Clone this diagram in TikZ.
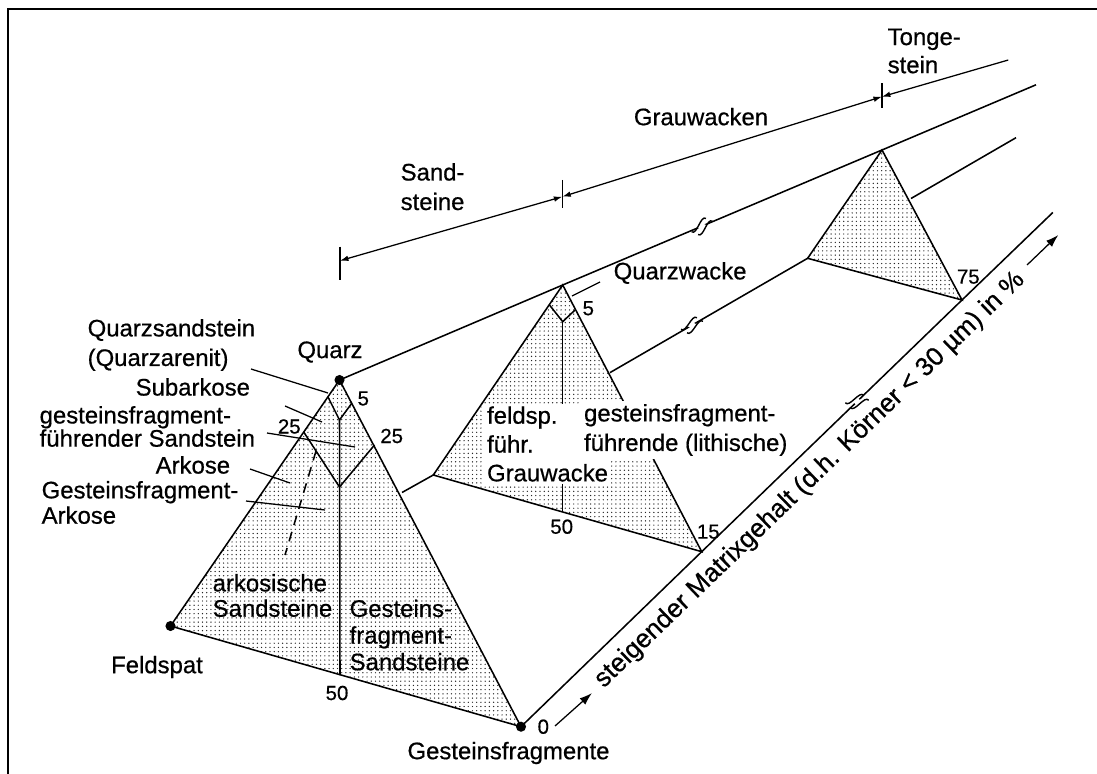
\documentclass[tikz,border=0pt]{standalone}
\usepackage{fontspec}
\setmainfont{Liberation Sans}[FakeBold=0.6]
\usetikzlibrary{arrows.meta, patterns}

\tikzset{
  prismline/.style={line width=1.1pt},
  stipple/.style={pattern=dots, pattern color=black!85},
  lbl/.style={font=\fontsize{17}{18}\selectfont, inner sep=1pt, align=left},
  num/.style={font=\fontsize{14.5}{16}\selectfont, inner sep=1pt},
  dimline/.style={line width=0.9pt},
  dimtip/.tip={Latex[length=6pt, width=4pt]},
  axisarrow/.style={line width=0.9pt, -{Latex[length=9pt, width=6pt]}},
}

\begin{document}
\begin{tikzpicture}[x=0.025cm, y=-0.025cm]
    \useasboundingbox (0,0) rectangle (1097,774);

    % Frame (top and left only)
    \draw[line width=1.3pt] (1097,9.3) -- (8.3,9.3) -- (8.3,774);

    % Corners of the three triangles
    \coordinate (Q1) at (339.5,380);   \coordinate (F1) at (170.5,626);   \coordinate (G1) at (521,726.7);
    \coordinate (Q2) at (562.7,285);   \coordinate (F2) at (433.3,475);   \coordinate (G2) at (701.7,551.7);
    \coordinate (Q3) at (882,150);     \coordinate (F3) at (807.6,258.3); \coordinate (G3) at (962,300);

    % Long edges of the prism
    \coordinate (qE) at (1036,84.8);
    \coordinate (fA) at (402,492.5);   \coordinate (fB) at (610,372.6);
    \coordinate (fC) at (911,198.5);   \coordinate (fE) at (1016,137.7);
    \coordinate (gE) at (1052.8,212.5);
    \draw[prismline] (Q1) -- (Q2) -- (Q3) -- (qE);
    \draw[prismline] (fA) -- (F2);
    \draw[prismline] (fB) -- (F3);
    \draw[prismline] (fC) -- (fE);
    \draw[prismline] (G1) -- (G2) -- (G3) -- (gE);

    % Triangles
    \draw[prismline, stipple] (Q1) -- (F1) -- (G1) -- cycle;
    \draw[prismline, stipple] (Q2) -- (F2) -- (G2) -- cycle;
    \draw[prismline, stipple] (Q3) -- (F3) -- (G3) -- cycle;

    % Fields in the first triangle
    \coordinate (a5l) at (328,397);    \coordinate (a5r) at (351.6,403.5);  \coordinate (j5) at (339.5,420);
    \coordinate (a25l) at (303.5,431.7); \coordinate (a25r) at (374.5,445); \coordinate (j25) at (339.5,487);
    \coordinate (m1) at (340,675);
    \draw[prismline] (a5l) -- (j5) -- (a5r);
    \draw[prismline] (a25l) -- (j25) -- (a25r);
    \draw[prismline] (j5) -- (m1);
    \coordinate (d1) at (316,451);     \coordinate (d2) at (285,555);
    \draw[prismline, dash pattern=on 7pt off 5pt] (d1) -- (d2);

    % Fields in the second triangle
    \coordinate (b5l) at (549.5,305);  \coordinate (b5r) at (575,310);  \coordinate (k5) at (562.7,321.7);
    \coordinate (m2) at (562.7,512);
    \draw[prismline] (b5l) -- (k5) -- (b5r);
    \draw[prismline] (k5) -- (m2);

    % Corner dots
    \foreach \c in {Q1, F1, G1} {
      \fill (\c) circle (3.6pt);
    }

    % Break marks on the long edges
    \foreach \x/\y/\a in {702/226.5/-23, 692/325.3/-30, 857/401.5/-44} {
      \begin{scope}[shift={(\x,\y)}, rotate=\a]
        \fill[white] (-3.5,-3) rectangle (3.5,3);
        \draw[line width=1pt] (0.5,-9) .. controls (-6,-10) and (-1,10) .. (-7.5,9);
        \draw[line width=1pt] (7.5,-9) .. controls (1,-10) and (6,10) .. (-0.5,9);
      \end{scope}
    }

    % Labels of the corners
    \node[lbl] (quarz) at (330,352) {Quarz};
    \node[lbl] (feldspat) at (157,667) {Feldspat};
    \node[lbl] (gestfr) at (508.5,753) {Gesteinsfragmente};

    % Percent values
    \foreach \x/\y/\t [count=\i] in {363.3/398.5/5, 289.3/426.5/25, 391.7/436/25, 337/693/50,
                                      543.3/726.7/0, 588.3/308.3/5, 561.7/526.7/50, 708.3/531.7/15, 968.3/276.7/75} {
      \node[num] (pct\i) at (\x,\y) {\t};
    }

    % Names of the fields, left of the first triangle
    \node[lbl, anchor=west, font=\fontsize{17}{21}\selectfont] (qsst) at (86,345) {Quarzsandstein\\(Quarzarenit)};
    \node[lbl, anchor=west] (subark) at (134,387) {Subarkose};
    \node[lbl, anchor=west, font=\fontsize{17}{16.5}\selectfont] (gfsst) at (38,426.5) {gesteinsfragment-\\führender Sandstein};
    \node[lbl, anchor=west] (arkose) at (154,465) {Arkose};
    \node[lbl, anchor=west] (gfark) at (40,502.5) {Gesteinsfragment-\\Arkose};

    % Leaders to the fields
    \coordinate (l1a) at (251,369);  \coordinate (l1b) at (328,393);
    \coordinate (l2a) at (285,406);  \coordinate (l2b) at (322,422);
    \coordinate (l3a) at (267,433);  \coordinate (l3b) at (355,447);
    \coordinate (l4a) at (250,469);  \coordinate (l4b) at (290,483);
    \coordinate (l5a) at (246,501);  \coordinate (l5b) at (325,510);
    \coordinate (l6a) at (572,296);  \coordinate (l6b) at (600,282);
    \foreach \i in {1,...,6} {
      \draw[line width=0.9pt] (l\i a) -- (l\i b);
    }

    % Names of the fields inside the triangles
    \node[lbl, anchor=west] (arksst) at (211,595.5) {arkosische\\Sandsteine};
    \node[lbl, anchor=west, font=\fontsize{17}{19}\selectfont] (gfsst2) at (348,635) {Gesteins-\\fragment-\\Sandsteine};
    \node[lbl, anchor=west, fill=white, inner sep=2pt, font=\fontsize{17}{20.5}\selectfont] (fgw) at (484,444) {feldsp.\\führ.\\Grauwacke};
    \node[lbl, anchor=west, fill=white, inner sep=2pt, font=\fontsize{17}{21}\selectfont] (lgw) at (581,430) {gesteinsfragment-\\führende (lithische)};
    \node[lbl, anchor=west] (qwacke) at (612,273) {Quarzwacke};

    % Ranges above the prism
    \coordinate (t1) at (340,260.7);
    \coordinate (t2) at (562.3,196.7);
    \coordinate (t3) at (881.9,96.7);
    \coordinate (tE) at (1008.3,60);
    \draw[dimline, dimtip-dimtip] (t1) -- (t2);
    \draw[dimline, dimtip-dimtip] (t2) -- (t3);
    \draw[dimline, dimtip-] (t3) -- (tE);
    \draw[dimline] (t1) ++(0,-14) -- ++(0,33.3);
    \draw[dimline] (t2) ++(0,-16.7) -- ++(0,28.3);
    \draw[dimline] (t3) ++(0,-13.4) -- ++(0,25);
    \node[lbl, anchor=west, font=\fontsize{17}{21}\selectfont] (sandst) at (399,186.7) {Sand-\\steine};
    \node[lbl] (grauw) at (701,116.7) {Grauwacken};
    \node[lbl, anchor=west, font=\fontsize{17}{20}\selectfont] (tonst) at (886,51) {Tonge-\\stein};

    % Matrix axis
    \coordinate (ax1) at (555,726);   \coordinate (ax2) at (592,693);
    \coordinate (ax3) at (1027,265);  \coordinate (ax4) at (1058.3,235);
    \draw[axisarrow] (ax1) -- (ax2);
    \draw[axisarrow] (ax3) -- (ax4);
    \node[lbl, rotate=44, font=\fontsize{18.5}{20}\selectfont] (matrix) at (810,480) {steigender Matrixgehalt (d.h. Körner < 30 µm) in \%};
\end{tikzpicture}
\end{document}
